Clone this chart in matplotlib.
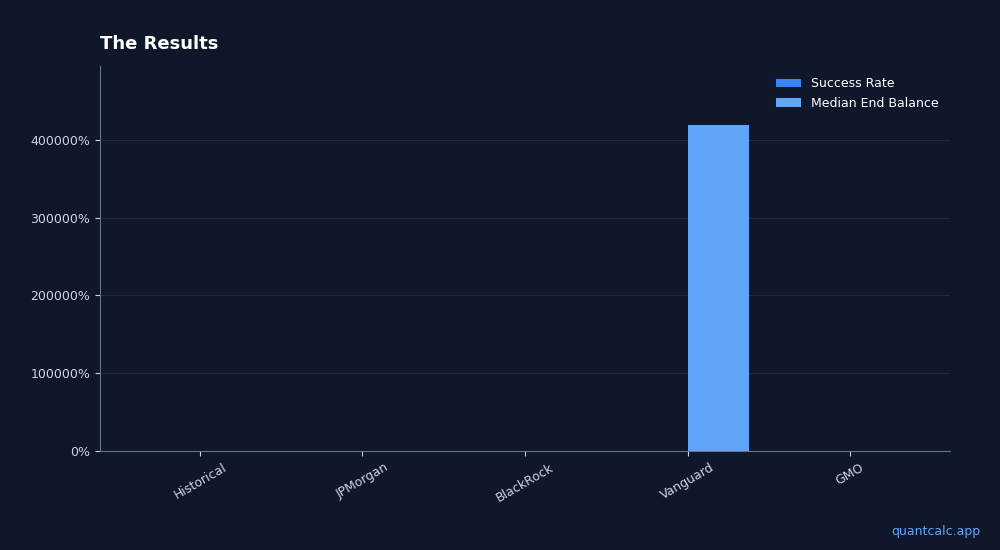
import matplotlib
matplotlib.use("Agg")
import matplotlib.pyplot as plt
import numpy as np
from matplotlib.ticker import FuncFormatter, MultipleLocator

categories = ["Historical", "JPMorgan", "BlackRock", "Vanguard", "GMO"]
success_rate = [95, 88, 84, 91, 72]
median_end_balance = [0, 0, 0, 419300, 0]
series_names = ["Success Rate", "Median End Balance"]

BG = "#0f172a"
C1 = "#3b82f6"
C2 = "#60a5fa"
TXT = "#cbd5e1"
SPINE = "#64748b"
GRID = "#1e293b"

fig = plt.figure(figsize=(10, 5.5), dpi=100, facecolor=BG)
ax = fig.add_axes([0.10, 0.18, 0.85, 0.70], facecolor=BG)

x = np.arange(len(categories))
w = 0.38
ax.bar(x - w / 2, success_rate, w, color=C1, label=series_names[0], zorder=3)
ax.bar(x + w / 2, median_end_balance, w, color=C2, label=series_names[1], zorder=3)

ax.set_xlim(-0.615, 4.615)
ax.set_ylim(0, max(median_end_balance) * 1.18)
ax.yaxis.set_major_locator(MultipleLocator(100000))
ax.yaxis.set_major_formatter(FuncFormatter(lambda v, p: f"{v:.0f}%"))
ax.set_xticks(x)
ax.set_xticklabels(categories, rotation=30, ha="center")

ax.grid(axis="y", color=GRID, linewidth=0.8, zorder=0)
for s in ["top", "right"]:
    ax.spines[s].set_visible(False)
for s in ["left", "bottom"]:
    ax.spines[s].set_color(SPINE)
ax.tick_params(colors=TXT, labelsize=9)
ax.tick_params(axis="both", color=TXT)

ax.set_title("The Results", loc="left", color="white", fontsize=13,
             fontweight="bold", pad=12)

leg = ax.legend(loc="upper right", frameon=False, fontsize=9)
for t in leg.get_texts():
    t.set_color("white")

fig.text(0.98, 0.033, "quantcalc.app", color=C2, fontsize=9,
         ha="right", va="center")

fig.savefig("out.png", dpi=100, facecolor=BG)
